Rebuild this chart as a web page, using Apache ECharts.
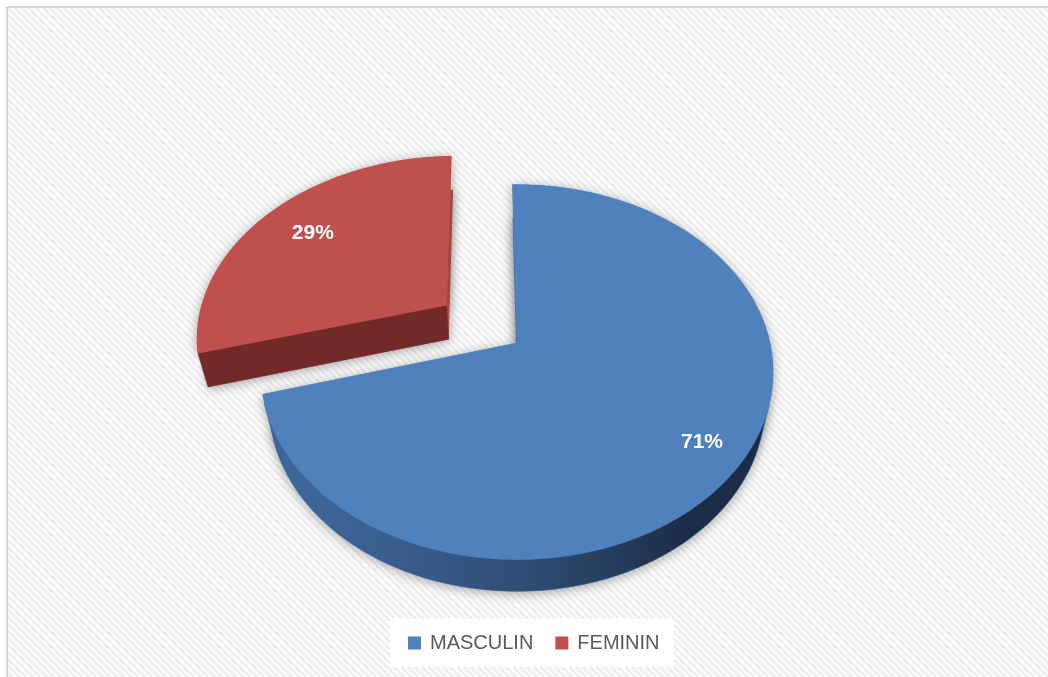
<!DOCTYPE html>
<html>
<head>
<meta charset="utf-8">
<script src="https://cdn.jsdelivr.net/npm/echarts@6/dist/echarts.min.js"></script>
<style>
  html, body { margin: 0; padding: 0; background: #ffffff; }
  #chart { width: 1048px; height: 677px; }
</style>
</head>
<body>
<div id="chart"></div>
<script>
// Gender split
const categories = ['MASCULIN', 'FEMININ'];
const values = [71, 29];

// Per-slice look
const topColors   = ['#4F81BD', '#C0504D'];
const wallLight   = ['#3d6597', '#8e3835'];
const wallDark    = ['#1b2c47', '#5a201f'];
const cutColors   = ['#223a5c', '#712a28'];
const sliceExplode = [0, 0.358];   // radial pull-out, fraction of radius
const labelRadius  = [0.84, 0.75]; // label distance, fraction of radius

// Tilted-disc camera
const view = {
  cx: 517, cy: 343,          // screen position of the pie centre
  scale: 253,                // screen radius at centre depth
  tilt: 46.3 * Math.PI / 180,
  eye: 4.46,                 // camera distance in radii
  depth: 0.2,                // slab thickness in radii
  rotation: -1.2 * Math.PI / 180
};

const total = values.reduce((a, b) => a + b, 0);
const startFrac = [];
values.reduce((acc, v, i) => { startFrac[i] = acc; return acc + v; }, 0);

const S = Math.sin(view.tilt), C = Math.cos(view.tilt);
const cam = [0, view.eye * S, view.eye * C];

function project(X, Y, Z) {
  const yc = Y * C - Z * S;
  const zc = Y * S + Z * C;
  const k = view.scale * view.eye / (view.eye - zc);
  return [view.cx + X * k, view.cy - yc * k];
}

function hexToRgb(h) {
  const n = parseInt(h.slice(1), 16);
  return [(n >> 16) & 255, (n >> 8) & 255, n & 255];
}
function mix(a, b, t) {
  const A = hexToRgb(a), B = hexToRgb(b);
  const c = A.map((v, i) => Math.round(v + (B[i] - v) * t));
  return 'rgb(' + c.join(',') + ')';
}
function wallShade(th) {
  const v = -0.7 * Math.sin(th) - 0.5 * Math.cos(th);
  return Math.max(0, Math.min(1, v / 0.86));
}

function buildSlice(i, value) {
  const a0 = view.rotation + startFrac[i] / total * Math.PI * 2;
  const a1 = view.rotation + (startFrac[i] + value) / total * Math.PI * 2;
  const mid = (a0 + a1) / 2;
  const ox = sliceExplode[i] * Math.sin(mid);
  const oz = -sliceExplode[i] * Math.cos(mid);
  const h = view.depth;

  const steps = Math.max(4, Math.ceil((a1 - a0) / (Math.PI / 180)));
  const angs = [];
  for (let s = 0; s <= steps; s++) angs.push(a0 + (a1 - a0) * s / steps);
  const rim = (th, Y) => project(ox + Math.sin(th), Y, oz - Math.cos(th));
  const topRim = angs.map(th => rim(th, 0));
  const botRim = angs.map(th => rim(th, -h));
  const apexT = project(ox, 0, oz);
  const apexB = project(ox, -h, oz);

  const children = [];

  // soft drop shadow under the slab
  const shadowStyle = {
    fill: topColors[i], shadowBlur: 12, shadowColor: 'rgba(0,0,0,0.35)',
    shadowOffsetX: 0, shadowOffsetY: 2
  };
  children.push({ type: 'polygon', shape: { points: [apexB].concat(botRim) }, style: shadowStyle, silent: true });
  children.push({ type: 'polygon', shape: { points: [apexT].concat(topRim) }, style: shadowStyle, silent: true });

  // outer curved wall: keep only the runs that face the camera
  const facing = th => {
    const px = ox + Math.sin(th), pz = oz - Math.cos(th);
    return (cam[0] - px) * Math.sin(th) + (cam[2] - pz) * (-Math.cos(th)) > 0;
  };
  let run = null;
  const runs = [];
  for (let s = 0; s < steps; s++) {
    const vis = facing((angs[s] + angs[s + 1]) / 2);
    if (vis) {
      if (!run) { run = [s]; runs.push(run); }
      run.push(s + 1);
    } else run = null;
  }
  runs.forEach(r => {
    const pts = r.map(s => topRim[s]).concat(r.slice().reverse().map(s => botRim[s]));
    const xs = r.map(s => topRim[s][0]);
    const xmin = Math.min.apply(null, xs), xmax = Math.max.apply(null, xs);
    const stops = r.map(s => ({
      offset: xmax > xmin ? (topRim[s][0] - xmin) / (xmax - xmin) : 0,
      color: mix(wallDark[i], wallLight[i], wallShade(angs[s]))
    })).sort((p, q) => p.offset - q.offset);
    children.push({
      type: 'polygon', shape: { points: pts },
      style: {
        fill: { type: 'linear', x: xmin, y: 0, x2: xmax, y2: 0, global: true, colorStops: stops },
        stroke: stops[0].color, lineWidth: 0.5
      }
    });
  });

  // radial cut faces that turn toward the camera
  [[a0, a0 - Math.PI / 2], [a1, a1 + Math.PI / 2]].forEach(([th, nth]) => {
    const nx = Math.sin(nth), nz = -Math.cos(nth);
    const d = (cam[0] - ox) * nx + (cam[2] - oz) * nz;
    if (d > 0.5) {
      children.push({
        type: 'polygon',
        shape: { points: [apexT, rim(th, 0), rim(th, -h), apexB] },
        style: { fill: cutColors[i], stroke: cutColors[i], lineWidth: 0.5 }
      });
    }
  });

  // top face
  children.push({
    type: 'polygon', shape: { points: [apexT].concat(topRim) },
    style: { fill: topColors[i], stroke: topColors[i], lineWidth: 0.5 }
  });

  // percentage label
  const lr = labelRadius[i];
  const lp = project(ox + lr * Math.sin(mid), 0, oz - lr * Math.cos(mid));
  children.push({
    type: 'text',
    style: {
      x: lp[0], y: lp[1],
      text: Math.round(value / total * 100) + '%',
      fill: '#ffffff',
      font: 'bold 21px "Liberation Sans", Arial, sans-serif',
      align: 'center', verticalAlign: 'middle'
    },
    silent: true
  });

  return { type: 'group', children: children };
}

// light diagonal hatching for the chart area
function hatchTile() {
  const c = document.createElement('canvas');
  const n = 7;
  c.width = n; c.height = n;
  const g = c.getContext('2d');
  g.fillStyle = '#fcfcfc';
  g.fillRect(0, 0, n, n);
  g.strokeStyle = '#ededed';
  g.lineWidth = 2.2;
  for (let k = -1; k <= 1; k++) {
    g.beginPath();
    g.moveTo(k * n - 1, -1);
    g.lineTo(k * n + n + 1, n + 1);
    g.stroke();
  }
  return c;
}

const chart = echarts.init(document.getElementById('chart'), null, { renderer: 'canvas' });

const series = categories.map((name, i) => ({
  name: name,
  type: 'custom',
  coordinateSystem: 'none',
  z: i === 0 ? 3 : 2,
  data: [{ name: name, value: values[i] }],
  renderItem: (params, api) => buildSlice(i, api.value(0))
}));

chart.setOption({
  animation: false,
  backgroundColor: '#ffffff',
  color: topColors,
  graphic: [
    {
      type: 'rect', z: -10, silent: true,
      shape: { x: 7, y: 7, width: 1041, height: 670 },
      style: { fill: { image: hatchTile(), repeat: 'repeat' } }
    },
    {
      type: 'line', z: -9, silent: true,
      shape: { x1: 6, y1: 7, x2: 1048, y2: 7 },
      style: { stroke: '#d6d6d6', lineWidth: 2 }
    },
    {
      type: 'line', z: -9, silent: true,
      shape: { x1: 7, y1: 6, x2: 7, y2: 677 },
      style: { stroke: '#d6d6d6', lineWidth: 2 }
    }
  ],
  legend: {
    data: categories,
    left: 390,
    top: 619,
    padding: [14, 14, 14, 18],
    backgroundColor: '#ffffff',
    icon: 'rect',
    itemWidth: 13,
    itemHeight: 13,
    itemGap: 22,
    selectedMode: false,
    textStyle: {
      color: '#595959',
      fontSize: 20,
      padding: [0, 0, 0, 4],
      fontFamily: '"Liberation Sans", Arial, sans-serif'
    }
  },
  series: series
});
</script>
</body>
</html>
